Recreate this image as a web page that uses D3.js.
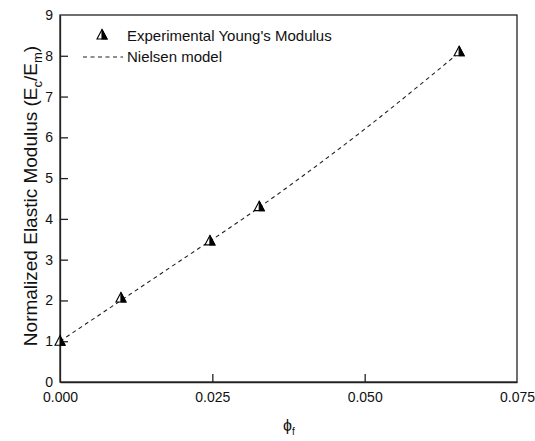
<!DOCTYPE html>
<html>
<head>
<meta charset="utf-8">
<script src="https://cdn.jsdelivr.net/npm/d3@7"></script>
<style>
  body { margin: 0; background: #fff; }
  text { font-family: "Liberation Sans", Arial, sans-serif; fill: #111; }
</style>
</head>
<body>
<script>
// experimental points
const phiExp = [0, 0.01, 0.0246, 0.0327, 0.0655];
const modExp = [1.0, 2.06, 3.46, 4.30, 8.10];
// Nielsen model curve
const phiModel = [0, 0.01, 0.02, 0.03, 0.04, 0.05, 0.06, 0.0655];
const modModel = [1.0, 2.0, 3.0, 4.0, 5.07, 6.2, 7.4, 8.08];
const xTicks = [0, 0.025, 0.05, 0.075];
const yTicks = [0, 1, 2, 3, 4, 5, 6, 7, 8, 9];
const legendLabels = ["Experimental Young's Modulus", "Nielsen model"];

const largeur = 535, hauteur = 441;
const m = { left: 60, right: 18, top: 15, bottom: 59 };

const svg = d3.select("body").append("svg")
    .attr("width", largeur)
    .attr("height", hauteur);

const x = d3.scaleLinear().domain([0, 0.075]).range([m.left, largeur - m.right]);
const y = d3.scaleLinear().domain([0, 9]).range([hauteur - m.bottom, m.top]);

// frame
svg.append("rect")
    .attr("x", m.left).attr("y", m.top)
    .attr("width", x(0.075) - m.left).attr("height", y(0) - m.top)
    .attr("fill", "none").attr("stroke", "#222").attr("stroke-width", 1.3);

// axes, ticks inside
const xAxis = svg.append("g")
    .attr("transform", "translate(0," + y(0) + ")")
    .call(d3.axisBottom(x).tickValues(xTicks).tickFormat(d3.format(".3f")).tickSizeInner(-8).tickSizeOuter(0).tickPadding(8));
const yAxis = svg.append("g")
    .attr("transform", "translate(" + m.left + ",0)")
    .call(d3.axisLeft(y).tickValues(yTicks).tickSizeInner(-8).tickSizeOuter(0).tickPadding(7));

[xAxis, yAxis].forEach((a) => {
    a.select(".domain").attr("stroke", "#222").attr("stroke-width", 1.3);
    a.selectAll(".tick line").attr("stroke", "#222").attr("stroke-width", 1.3);
    a.selectAll(".tick text").style("font-size", "14px").attr("fill", "#111");
});
xAxis.selectAll(".tick text").attr("dy", "0.85em");
// hide tick marks sitting on the frame corners
xAxis.selectAll(".tick").filter((d) => d == 0 || d == 0.075).select("line").remove();
yAxis.selectAll(".tick").filter((d) => d == 0 || d == 9).select("line").remove();

// model line
const line = d3.line().x((d) => x(d[0])).y((d) => y(d[1])).curve(d3.curveMonotoneX);
svg.append("path")
    .datum(phiModel.map((p, i) => [p, modModel[i]]))
    .attr("d", line)
    .attr("fill", "none")
    .attr("stroke", "#222")
    .attr("stroke-width", 1.1)
    .attr("stroke-dasharray", "4,3.5");

// half-filled triangle marker
function marker(g) {
    g.append("path").attr("d", "M0,-5.5 L-5,4 L5,4 Z")
        .attr("fill", "#fff").attr("stroke", "#000").attr("stroke-width", 1.1);
    g.append("path").attr("d", "M0,-5.5 L0,4 L5,4 Z")
        .attr("fill", "#000").attr("stroke", "#000").attr("stroke-width", 1.1);
}

svg.append("g")
    .selectAll("g")
    .data(phiExp.map((p, i) => [p, modExp[i]]))
    .enter()
    .append("g")
    .attr("transform", (d) => "translate(" + x(d[0]) + "," + y(d[1]) + ")")
    .each(function () { marker(d3.select(this)); });

// legend
const leg = svg.append("g");
leg.append("g").attr("transform", "translate(102,35)").call(marker);
leg.append("line")
    .attr("x1", 83).attr("x2", 123).attr("y1", 57).attr("y2", 57)
    .attr("stroke", "#222").attr("stroke-width", 1.1).attr("stroke-dasharray", "4,3.5");
leg.selectAll("text")
    .data(legendLabels)
    .enter()
    .append("text")
    .text((d) => d)
    .attr("x", 127)
    .attr("y", (d, i) => 41 + i * 21)
    .style("font-size", "15px");

// axis titles
const yt = svg.append("text")
    .attr("transform", "translate(37,196) rotate(-90)")
    .attr("text-anchor", "middle")
    .style("font-size", "19px");
yt.append("tspan").text("Normalized Elastic Modulus (E");
yt.append("tspan").text("c").attr("dy", 5).style("font-size", "13px");
yt.append("tspan").text("/E").attr("dy", -5);
yt.append("tspan").text("m").attr("dy", 5).style("font-size", "13px");
yt.append("tspan").text(")").attr("dy", -5);

const xt = svg.append("text")
    .attr("x", 283).attr("y", 431)
    .style("font-size", "16px");
xt.append("tspan").text("ϕ");
xt.append("tspan").text("f").attr("dy", 4).style("font-size", "10px");
</script>
</body>
</html>
